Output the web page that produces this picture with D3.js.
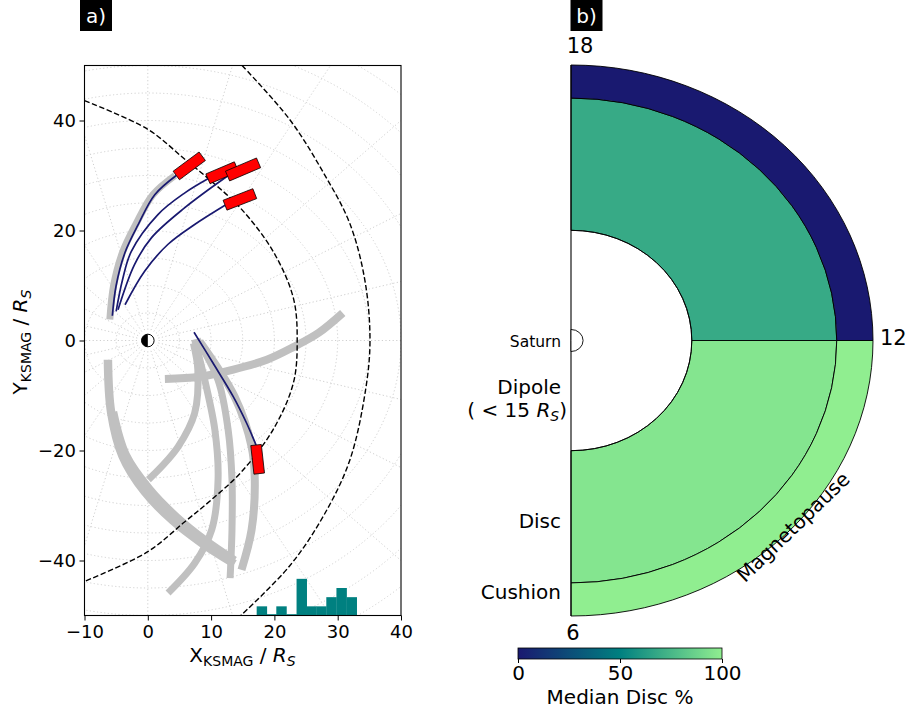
<!DOCTYPE html>
<html>
<head>
<meta charset="utf-8">
<script src="https://cdn.jsdelivr.net/npm/d3@7"></script>
<style>
  html, body { margin: 0; padding: 0; background: #fff; }
  svg { display: block; font-family: "DejaVu Sans", sans-serif; }
</style>
</head>
<body>
<svg id="fig" width="907" height="713"></svg>
<script>
// ---------- panel a: KSMAG positions in R_S ----------
const xTicks = [-10, 0, 10, 20, 30, 40];
const yTicks = [-40, -20, 0, 20, 40];
const gridRadii = [5, 10, 15, 20, 25, 30, 35, 40, 45, 50, 55, 60, 65, 70];
const gridAngles = [0, 15, 30, 45, 60, 75, 90, 105, 120, 135, 150, 165, 180, 195, 210, 225, 240, 255, 270, 285, 300, 315, 330, 345];

// magnetopause model boundaries (dashed)
const mpInner = [[-10, 43.6], [0, 38.4], [5.8, 33], [10, 29], [14.7, 24], [19.8, 16.2], [23, 7.7], [23.6, 0],
                 [23, -7.7], [19.8, -16.2], [14.7, -24], [10, -29], [5.8, -33], [0, -38.4], [-10, -43.8]];
const mpOuter = [[14.9, 50], [22.4, 40.2], [27.7, 30.6], [31.9, 21.3], [34.3, 10.9], [35.1, 0],
                 [34.4, -9], [31.9, -21.8], [27.7, -32], [22.4, -41], [14.7, -50]];

// spacecraft trajectory segments (grey): [points, width px]
const orbits = [
  [[[-6.0, 3.8], [-5.4, 10], [-4.0, 16], [-1.9, 21.1], [0.8, 26.5], [4.3, 30]], 7],
  [[[2.7, -7.0], [8.2, -6.6], [13.5, -5.3], [18.8, -3.5], [23, -1.2], [27, 1.4], [30.8, 5.0]], 8],
  [[[-6.3, -3.5], [-5.8, -13], [-4.0, -21], [-0.5, -27.5], [4.0, -32.8], [8.5, -36.8], [13.7, -40.6]], 8.5],
  [[[-5.5, -13], [-3.5, -20.8], [0.2, -27], [4.5, -32.1], [9.0, -36.3], [13.7, -40]], 8.5],
  [[[7.2, -0.5], [7.9, -5.3], [7.4, -13.2], [4.8, -19.3], [2.2, -22.9], [0.1, -25.3]], 7],
  [[[7.4, 0.2], [9.0, -7.2], [10.6, -16.3], [11.1, -25.3], [10.1, -34.4], [7.4, -40.5], [3.2, -45.9]], 7],
  [[[7.8, 0.2], [11.1, -7.2], [12.7, -16.3], [13.3, -25.3], [13.3, -34.4], [13.0, -43.2]], 7],
  [[[8.2, -0.2], [13.7, -10.2], [16.4, -19.3], [16.9, -25.3], [16.4, -34.4], [14.8, -41.7]], 8]
];

// traced field lines (navy)
const fieldLines = [
  [[-5.6, 4.5], [-5.0, 10], [-3.6, 16], [-1.5, 21.1], [1.1, 26.5], [4.5, 30]],
  [[-5.0, 5.3], [-4.0, 11], [-2.6, 16.2], [1.6, 22.9], [5.8, 26.8], [9.5, 29.4]],
  [[-4.7, 5.6], [-2.1, 13.8], [0.6, 18.7], [5.8, 24.1], [12.6, 29.9]],
  [[-3.6, 6.5], [-0.5, 12.6], [3.2, 17.5], [7.4, 21.1], [12.2, 24.6]],
  [[7.3, 1.5], [10.3, -4.1], [13.5, -10.2], [15.6, -15.0], [17.1, -19.0]]
];

// magnetopause crossings (red segments)
const crossings = [
  [[4.5, 30.0], [8.6, 33.5]],
  [[9.5, 29.4], [14.0, 31.6]],
  [[12.6, 29.9], [17.5, 32.3]],
  [[12.2, 24.6], [16.9, 26.7]],
  [[17.1, -19.0], [17.6, -24.2]]
];

// standoff distance histogram
const histEdges = [17.2, 18.8, 20.3, 21.9, 23.5, 25.1, 26.6, 28.2, 29.8, 31.4, 33.0];
const histCounts = [1, 0, 1, 0, 4, 1, 1, 2, 3, 2];

// ---------- panel b: median disc % by region and local time ----------
const mltSectors = [[6, 12], [12, 18]];
const regionNames = ['Disc', 'Cushion'];
const regionEdges = [0.4, 0.88, 1.0];
const medianDisc = [[96, 100], [69, 0]];   // per sector: [Disc, Cushion]
const cbarTicks = [0, 50, 100];
const cmapColors = ['#191970', '#008080', '#90ee90'];

const svg = d3.select('#fig');
const FONT = '"DejaVu Sans", sans-serif';

// ================= panel a =================
const A = { left: 84.5, right: 401, top: 65.5, bottom: 615.5 };
const x = d3.scaleLinear().domain([-10, 40]).range([A.left, A.right]);
const y = d3.scaleLinear().domain([-50, 50]).range([A.bottom, A.top]);

svg.append('defs').append('clipPath').attr('id', 'clipA')
  .append('rect').attr('x', A.left).attr('y', A.top)
  .attr('width', A.right - A.left).attr('height', A.bottom - A.top);

const pa = svg.append('g').attr('clip-path', 'url(#clipA)');

// polar grid
pa.selectAll('ellipse.grid').data(gridRadii).enter().append('ellipse')
  .attr('cx', x(0)).attr('cy', y(0))
  .attr('rx', d => x(d) - x(0)).attr('ry', d => y(0) - y(d))
  .attr('fill', 'none').attr('stroke', '#cfcfcf').attr('stroke-width', 1)
  .attr('stroke-dasharray', '1.2,2.4');
pa.selectAll('line.grid').data(gridAngles).enter().append('line')
  .attr('x1', x(0)).attr('y1', y(0))
  .attr('x2', d => x(75 * Math.cos(d * Math.PI / 180)))
  .attr('y2', d => y(75 * Math.sin(d * Math.PI / 180)))
  .attr('stroke', '#cfcfcf').attr('stroke-width', 1)
  .attr('stroke-dasharray', '1.2,2.4');

const curve = d3.line().x(d => x(d[0])).y(d => y(d[1])).curve(d3.curveCatmullRom.alpha(0.5));

// grey orbits
pa.selectAll('path.orbit').data(orbits).enter().append('path')
  .attr('d', d => curve(d[0])).attr('fill', 'none')
  .attr('stroke', '#c0c0c0').attr('stroke-width', d => d[1]);

// magnetopause dashed lines
pa.selectAll('path.mp').data([mpInner, mpOuter]).enter().append('path')
  .attr('d', curve).attr('fill', 'none')
  .attr('stroke', '#000').attr('stroke-width', 1.4).attr('stroke-dasharray', '5.5,2.5');

// field lines
pa.selectAll('path.fl').data(fieldLines).enter().append('path')
  .attr('d', curve).attr('fill', 'none')
  .attr('stroke', '#191970').attr('stroke-width', 1.7);

// crossing boxes
function boxPoly(seg) {
  const p1 = [x(seg[0][0]), y(seg[0][1])], p2 = [x(seg[1][0]), y(seg[1][1])];
  const dx = p2[0] - p1[0], dy = p2[1] - p1[1], L = Math.hypot(dx, dy);
  const h = 5.3, nx = -dy / L * h, ny = dx / L * h;
  return [[p1[0] + nx, p1[1] + ny], [p2[0] + nx, p2[1] + ny], [p2[0] - nx, p2[1] - ny], [p1[0] - nx, p1[1] - ny]]
    .map(p => p.join(',')).join(' ');
}
pa.selectAll('polygon.cross').data(crossings).enter().append('polygon')
  .attr('points', boxPoly).attr('fill', '#ff0000')
  .attr('stroke', '#000').attr('stroke-width', 0.8);

// histogram
const hy = d3.scaleLinear().domain([0, 6]).range([A.bottom, A.bottom - 55]);
pa.selectAll('rect.hist').data(histCounts).enter().append('rect')
  .attr('x', (d, i) => x(histEdges[i]))
  .attr('width', (d, i) => x(histEdges[i + 1]) - x(histEdges[i]) + 0.3)
  .attr('y', d => Math.min(hy(d), A.bottom - 1.3))
  .attr('height', d => Math.max(A.bottom - hy(d), 1.3))
  .attr('fill', '#008080');

// Saturn
pa.append('circle').attr('cx', x(0)).attr('cy', y(0)).attr('r', 9.5).attr('fill', '#fff');
const sat = pa.append('g').attr('transform', `translate(${x(0)},${y(0)})`);
sat.append('circle').attr('r', 6.3).attr('fill', '#fff').attr('stroke', '#000').attr('stroke-width', 1);
sat.append('path').attr('d', d3.arc().innerRadius(0).outerRadius(6.3).startAngle(Math.PI).endAngle(2 * Math.PI)())
  .attr('fill', '#000');

// frame + axes
svg.append('rect').attr('x', A.left).attr('y', A.top)
  .attr('width', A.right - A.left).attr('height', A.bottom - A.top)
  .attr('fill', 'none').attr('stroke', '#000').attr('stroke-width', 1.1);

const xAxis = svg.append('g').attr('transform', `translate(0,${A.bottom})`)
  .call(d3.axisBottom(x).tickValues(xTicks).tickSize(5).tickPadding(4.5));
const yAxis = svg.append('g').attr('transform', `translate(${A.left},0)`)
  .call(d3.axisLeft(y).tickValues(yTicks).tickSize(5).tickPadding(3.5));
[xAxis, yAxis].forEach(g => {
  g.select('.domain').remove();
  g.selectAll('text').attr('font-size', 18).attr('font-family', FONT).attr('fill', '#000');
  g.selectAll('line').attr('stroke', '#000').attr('stroke-width', 1);
});

function axisLabel(g, letter) {
  g.append('tspan').text(letter);
  g.append('tspan').attr('font-size', 14).attr('dy', 4).text('KSMAG');
  g.append('tspan').attr('dy', -4).text(' / ');
  g.append('tspan').attr('font-style', 'italic').text('R');
  g.append('tspan').attr('font-size', 14).attr('font-style', 'italic').attr('dy', 4).text('S');
}
const xl = svg.append('text').attr('x', 242.5).attr('y', 662).attr('text-anchor', 'middle')
  .attr('font-size', 20).attr('font-family', FONT);
axisLabel(xl, 'X');
const yl = svg.append('text').attr('transform', 'translate(27,342) rotate(-90)').attr('text-anchor', 'middle')
  .attr('font-size', 20).attr('font-family', FONT);
axisLabel(yl, 'Y');

// panel tags
function tag(x0, label) {
  svg.append('rect').attr('x', x0).attr('y', 0).attr('width', 32).attr('height', 31).attr('fill', '#000');
  svg.append('text').attr('x', x0 + 16).attr('y', 23).attr('text-anchor', 'middle')
    .attr('font-size', 20).attr('font-family', FONT).attr('fill', '#fff').text(label);
}
tag(80, 'a)');
tag(570.5, 'b)');

// ================= panel b =================
const B = { cx: 571, cy: 340.5, R: 275.5, sx: 302 / 275.5 };
const ang = d3.scaleLinear().domain([18, 6]).range([0, Math.PI]);
const color = d3.scaleLinear().domain([0, 50, 100]).range(cmapColors).interpolate(d3.interpolateRgb);

const pb = svg.append('g').attr('transform', `translate(${B.cx},${B.cy}) scale(${B.sx},1)`);
const cells = [];
mltSectors.forEach((s, i) => regionNames.forEach((r, j) => cells.push({
  mlt: s, r0: regionEdges[j], r1: regionEdges[j + 1], v: medianDisc[i][j]
})));
const sectorArc = d3.arc()
  .innerRadius(d => d.r0 * B.R).outerRadius(d => d.r1 * B.R)
  .startAngle(d => ang(d.mlt[1])).endAngle(d => ang(d.mlt[0]));
pb.selectAll('path.cell').data(cells).enter().append('path')
  .attr('d', sectorArc).attr('fill', d => color(d.v))
  .attr('stroke', '#000').attr('stroke-width', 0.9).attr('vector-effect', 'non-scaling-stroke');

// dipole boundary and left spine
const inner = d3.path();
inner.arc(0, 0, regionEdges[0] * B.R, -Math.PI / 2, Math.PI / 2);
pb.append('path').attr('d', inner.toString()).attr('fill', 'none')
  .attr('stroke', '#000').attr('stroke-width', 0.9).attr('vector-effect', 'non-scaling-stroke');
pb.append('line').attr('x1', 0).attr('x2', 0).attr('y1', -B.R).attr('y2', B.R)
  .attr('stroke', '#000').attr('stroke-width', 1.1).attr('vector-effect', 'non-scaling-stroke');

// Saturn half disc
pb.append('path')
  .attr('d', d3.arc().innerRadius(0).outerRadius(0.04 * B.R).startAngle(0).endAngle(Math.PI)())
  .attr('fill', '#fff').attr('stroke', '#000').attr('stroke-width', 0.9).attr('vector-effect', 'non-scaling-stroke');

// MLT labels
const mltLab = [{ t: '18', x: 580, y: 53, a: 'middle' }, { t: '12', x: 880, y: 345, a: 'start' }, { t: '6', x: 573, y: 640, a: 'middle' }];
svg.selectAll('text.mlt').data(mltLab).enter().append('text')
  .attr('x', d => d.x).attr('y', d => d.y).attr('text-anchor', d => d.a)
  .attr('font-size', 21).attr('font-family', FONT).text(d => d.t);

// region labels
const lab = (t, xx, yy, fs) => svg.append('text').attr('x', xx).attr('y', yy).attr('text-anchor', 'end')
  .attr('font-size', fs).attr('font-family', FONT).text(t);
lab('Saturn', 561, 346.5, 15.5);
lab('Dipole', 561, 394, 20);
const dl = svg.append('text').attr('x', 567).attr('y', 417).attr('text-anchor', 'end')
  .attr('font-size', 20).attr('font-family', FONT);
dl.append('tspan').text('( < 15 ');
dl.append('tspan').attr('font-style', 'italic').text('R');
dl.append('tspan').attr('font-style', 'italic').attr('font-size', 14).attr('dy', 4).text('S');
dl.append('tspan').attr('dy', -4).text(')');
lab('Disc', 561, 528, 20);
lab('Cushion', 561, 599, 20);
svg.append('text').attr('transform', 'translate(798,532) rotate(-44)').attr('text-anchor', 'middle')
  .attr('font-size', 20).attr('font-family', FONT).text('Magnetopause');

// colorbar
const C = { x0: 518, x1: 722, y: 648, h: 11 };
const cx = d3.scaleLinear().domain([0, 100]).range([C.x0, C.x1]);
const grad = svg.select('defs').append('linearGradient').attr('id', 'cmap');
d3.range(0, 101, 5).forEach(v => grad.append('stop').attr('offset', v + '%').attr('stop-color', color(v)));
svg.append('rect').attr('x', C.x0).attr('y', C.y).attr('width', C.x1 - C.x0).attr('height', C.h)
  .attr('fill', 'url(#cmap)').attr('stroke', '#000').attr('stroke-width', 0.8);
const cax = svg.append('g').attr('transform', `translate(0,${C.y + C.h})`)
  .call(d3.axisBottom(cx).tickValues(cbarTicks).tickSize(4).tickPadding(3));
cax.select('.domain').remove();
cax.selectAll('text').attr('font-size', 20).attr('font-family', FONT).attr('fill', '#000');
cax.selectAll('line').attr('stroke', '#000');
svg.append('text').attr('x', 620).attr('y', 704).attr('text-anchor', 'middle')
  .attr('font-size', 20).attr('font-family', FONT).text('Median Disc %');
</script>
</body>
</html>
